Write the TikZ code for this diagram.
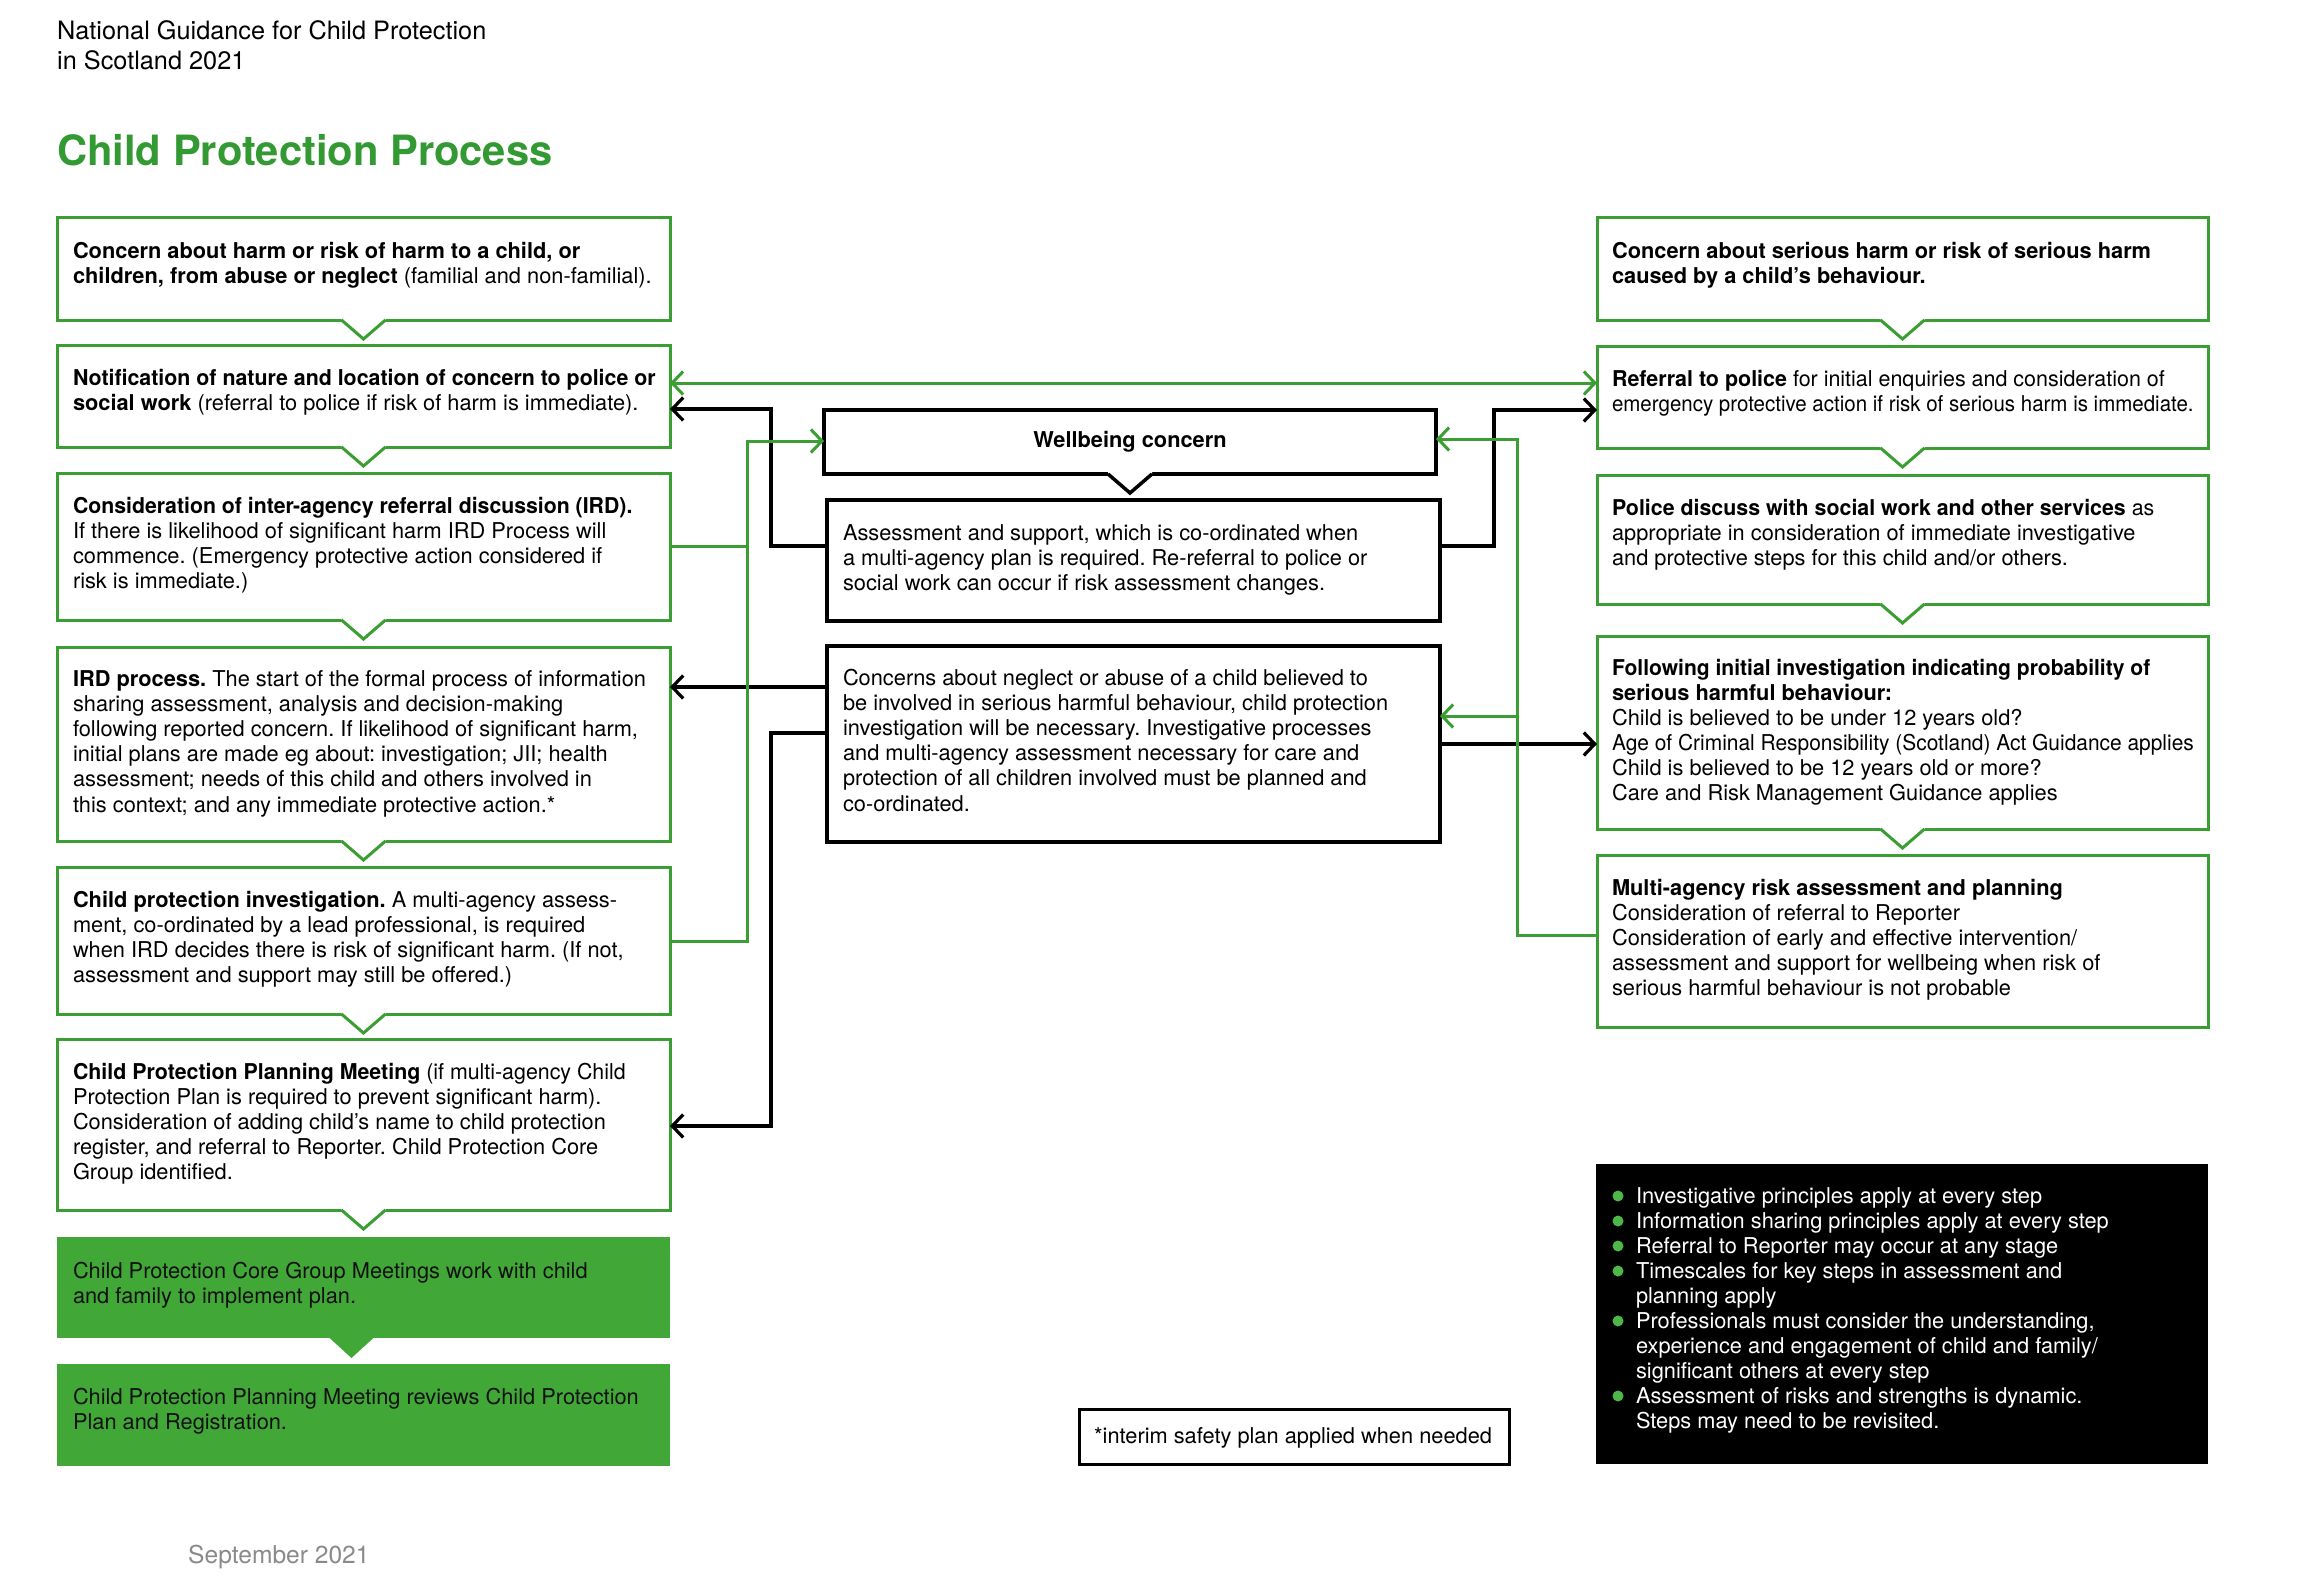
\documentclass[tikz,border=0pt]{standalone}
\usepackage{fontspec}
\usepackage{graphicx}
\setmainfont{TeX Gyre Heros}
\usetikzlibrary{arrows.meta,calc}
\definecolor{cpgreen}{HTML}{3A9E33}
\definecolor{cpfill}{HTML}{41A737}
\definecolor{cptitle}{HTML}{339933}
\definecolor{cpdot}{HTML}{4DB848}
\definecolor{cpgray}{HTML}{8A8A8A}
\definecolor{cpink}{HTML}{111111}
\newcommand\bodyfont{\fontsize{21.8}{25.1}\selectfont\frenchspacing}
\newcommand\sq[2]{\scalebox{#1}[1]{#2}}
% V-shaped pointer under a box: #1 node, #2 colour
\newcommand\vptr[2]{%
  \fill[white] ($(#1.south)+(-22,-2.5)$) -- ($(#1.south)+(22,-2.5)$) -- ($(#1.south)+(22,0)$)
     -- ($(#1.south)+(0,19)$) -- ($(#1.south)+(-22,0)$) -- cycle;
  \draw[#2, line join=miter] ($(#1.south)+(-22,0)$) -- ($(#1.south)+(0,19)$) -- ($(#1.south)+(22,0)$);}
\begin{document}
\begin{tikzpicture}[x=1pt,y=-1pt,
  gbox/.style={draw=cpgreen, line width=3pt, fill=white, inner sep=0, outer sep=0, anchor=north west},
  kbox/.style={draw=black, line width=3.5pt, fill=white, inner sep=0, outer sep=0, anchor=north west},
  fbox/.style={fill=cpfill, draw=none, inner sep=0, outer sep=0, anchor=north west},
  txt/.style={anchor=north west, inner sep=0, outer sep=0, align=left, font=\bodyfont, text=black},
  gline/.style={draw=cpgreen, line width=3pt},
  bline/.style={draw=black, line width=3.2pt},
  barb/.style={-{Straight Barb[length=11pt,width=23pt]}},
  dbarb/.style={{Straight Barb[length=11pt,width=23pt]}-{Straight Barb[length=11pt,width=23pt]}},
  gptr/.style={draw=cpgreen, line width=3pt},
  kptr/.style={draw=black, line width=3.5pt}]
\useasboundingbox (0,0) rectangle (2300,1581);
\fill[white] (0,0) rectangle (2300,1581);

% header
\node[anchor=north west, inner sep=0, align=left, font=\fontsize{25.3}{30}\selectfont] (hdr) at (57,18)
  {\strut National Guidance for Child Protection\\in Scotland 2021};
\node[anchor=base west, inner sep=0, font=\fontsize{41.7}{48}\selectfont\bfseries, text=cptitle] (title) at (57,166)
  {Child Protection Process};

% left column
\node[gbox, minimum width=613, minimum height=102] (l1) at (57,218) {};
\node[gbox, minimum width=613, minimum height=102] (l2) at (57,345) {};
\node[gbox, minimum width=613, minimum height=147] (l3) at (57,473) {};
\node[gbox, minimum width=613, minimum height=194] (l4) at (57,647) {};
\node[gbox, minimum width=613, minimum height=147] (l5) at (57,867) {};
\node[gbox, minimum width=613, minimum height=171] (l6) at (57,1039) {};
\node[fbox, minimum width=613, minimum height=101] (g1) at (57,1237) {};
\node[fbox, minimum width=613, minimum height=102] (g2) at (57,1364) {};
\vptr{l1}{gptr}\vptr{l2}{gptr}\vptr{l3}{gptr}\vptr{l4}{gptr}\vptr{l5}{gptr}\vptr{l6}{gptr}
\fill[cpfill] ($(g1.south)+(-35,-1)$) -- ($(g1.south)+(11,-1)$) -- ($(g1.south)+(-12,20)$) -- cycle;

\node[txt] (l1t) at ($(l1.north west)+(16,23)$)
  {\strut\textbf{Concern about harm or risk of harm to a child, or}\\
   \textbf{children, from abuse or neglect} (familial and non-familial).};
\node[txt] (l2t) at ($(l2.north west)+(16,23)$)
  {\strut\sq{0.98}{\textbf{Notification of nature and location of concern to police or}}\\
   \textbf{social work} (referral to police if risk of harm is immediate).};
\node[txt] (l3t) at ($(l3.north west)+(16,23)$)
  {\strut\sq{0.975}{\textbf{Consideration of inter-agency referral discussion (IRD).}}\\
   If there is likelihood of significant harm IRD Process will\\
   commence. (Emergency protective action considered if\\
   risk is immediate.)};
\node[txt] (l4t) at ($(l4.north west)+(16,22)$)
  {\strut\textbf{IRD process.} The start of the formal process of information\\
   sharing assessment, analysis and decision-making\\
   following reported concern. If likelihood of significant harm,\\
   initial plans are made eg about: investigation; JII; health\\
   assessment; needs of this child and others involved in\\
   this context; and any immediate protective action.*};
\node[txt] (l5t) at ($(l5.north west)+(16,23)$)
  {\strut\textbf{Child protection investigation.} A multi-agency assess-\\
   ment, co-ordinated by a lead professional, is required\\
   when IRD decides there is risk of significant harm. (If not,\\
   assessment and support may still be offered.)};
\node[txt] (l6t) at ($(l6.north west)+(16,23)$)
  {\strut\sq{0.98}{\textbf{Child Protection Planning Meeting} (if multi-agency Child}\\
   Protection Plan is required to prevent significant harm).\\
   Consideration of adding child’s name to child protection\\
   register, and referral to Reporter. Child Protection Core\\
   Group identified.};
\node[txt, text=cpink] (g1t) at ($(g1.north west)+(16,23.5)$)
  {\strut Child Protection Core Group Meetings work with child\\
   and family to implement plan.};
\node[txt, text=cpink] (g2t) at ($(g2.north west)+(16,23)$)
  {\strut Child Protection Planning Meeting reviews Child Protection\\
   Plan and Registration.};

% middle column
\node[kbox, minimum width=612, minimum height=64] (w) at (824,410) {};
\node[kbox, minimum width=613, minimum height=121] (a) at (827,500) {};
\node[kbox, minimum width=613, minimum height=196] (c) at (827,646) {};
\vptr{w}{kptr}
\node[anchor=base, inner sep=0, font=\bodyfont\bfseries] (wt) at (1130,447.5) {Wellbeing concern};
\node[txt] (at) at ($(a.north west)+(16,23)$)
  {\strut Assessment and support, which is co-ordinated when\\
   a multi-agency plan is required. Re-referral to police or\\
   social work can occur if risk assessment changes.};
\node[txt] (ct) at ($(c.north west)+(16,22)$)
  {\strut Concerns about neglect or abuse of a child believed to\\
   be involved in serious harmful behaviour, child protection\\
   investigation will be necessary. Investigative processes\\
   and multi-agency assessment necessary for care and\\
   protection of all children involved must be planned and\\
   co-ordinated.};
\node[kbox, line width=3pt, minimum width=430, minimum height=55] (int) at (1079,1409) {};
\node[anchor=base west, inner sep=0, font=\bodyfont] (intt) at (1094,1443) {*interim safety plan applied when needed};

% right column
\node[gbox, minimum width=611, minimum height=102] (r1) at (1597,218) {};
\node[gbox, minimum width=611, minimum height=102] (r2) at (1597,346) {};
\node[gbox, minimum width=611, minimum height=129] (r3) at (1597,475) {};
\node[gbox, minimum width=611, minimum height=193] (r4) at (1597,636) {};
\node[gbox, minimum width=611, minimum height=172] (r5) at (1597,855) {};
\vptr{r1}{gptr}\vptr{r2}{gptr}\vptr{r3}{gptr}\vptr{r4}{gptr}
\node[txt] (r1t) at ($(r1.north west)+(15,22.5)$)
  {\strut\textbf{Concern about serious harm or risk of serious harm}\\
   \textbf{caused by a child’s behaviour.}};
\node[txt] (r2t) at ($(r2.north west)+(15,22.5)$)
  {\strut\sq{0.984}{\textbf{Referral to police} for initial enquiries and consideration of}\\
   \sq{0.94}{emergency protective action if risk of serious harm is immediate.}};
\node[txt] (r3t) at ($(r3.north west)+(15,22.5)$)
  {\strut\sq{0.98}{\textbf{Police discuss with social work and other services} as}\\
   appropriate in consideration of immediate investigative\\
   and protective steps for this child and/or others.};
\node[txt] (r4t) at ($(r4.north west)+(15,21.5)$)
  {\strut\sq{0.966}{\textbf{Following initial investigation indicating probability of}}\\
   \textbf{serious harmful behaviour:}\\
   Child is believed to be under 12 years old?\\
   \sq{0.96}{Age of Criminal Responsibility (Scotland) Act Guidance applies}\\
   Child is believed to be 12 years old or more?\\
   Care and Risk Management Guidance applies};
\node[txt] (r5t) at ($(r5.north west)+(15,22.5)$)
  {\strut\textbf{Multi-agency risk assessment and planning}\\
   Consideration of referral to Reporter\\
   Consideration of early and effective intervention/\\
   assessment and support for wellbeing when risk of\\
   serious harmful behaviour is not probable};

% black key box
\node[fill=black, draw=none, inner sep=0, outer sep=0, anchor=north west, minimum width=612, minimum height=300] (k) at (1596,1164) {};
\node[txt, text=white] (kt) at ($(k.north west)+(40,21.5)$)
  {\strut Investigative principles apply at every step\\
   Information sharing principles apply at every step\\
   Referral to Reporter may occur at any stage\\
   Timescales for key steps in assessment and\\
   planning apply\\
   Professionals must consider the understanding,\\
   experience and engagement of child and family/\\
   significant others at every step\\
   Assessment of risks and strengths is dynamic.\\
   Steps may need to be revisited.};
\foreach \yy in {1196,1221,1246,1271,1321,1396}
  \fill[cpdot] (1618,\yy) circle (5.5);

\node[anchor=base west, inner sep=0, font=\fontsize{24.6}{30}\selectfont, text=cpgray] (sep) at (188,1563) {September 2021};

% connectors: black
\draw[bline, barb] (a.west |- 0,546) -| (771,409) -- (l2.east |- 0,409);
\draw[bline, barb] (a.east |- 0,546) -| (1494,410) -- (r2.west |- 0,410);
\draw[bline, barb] (c.west |- 0,687) -- (l4.east |- 0,687);
\draw[bline, barb] (c.west |- 0,733) -| (771,1126) -- (l6.east |- 0,1126);
\draw[bline, barb] (c.east |- 0,744) -- (r4.west |- 0,744);
% connectors: green
\draw[gline, dbarb] (l2.east |- 0,383) -- (r2.west |- 0,383);
\draw[gline] (l3.east |- 0,546) -- (747,546);
\draw[gline, barb] (l5.east |- 0,941) -| (747,441) -- (w.west |- 0,441);
\draw[gline, barb] (r5.west |- 0,935) -| (1517,439) -- (w.east |- 0,439);
\draw[gline, barb] (1517,716) -- (c.east |- 0,716);
\end{tikzpicture}
\end{document}
